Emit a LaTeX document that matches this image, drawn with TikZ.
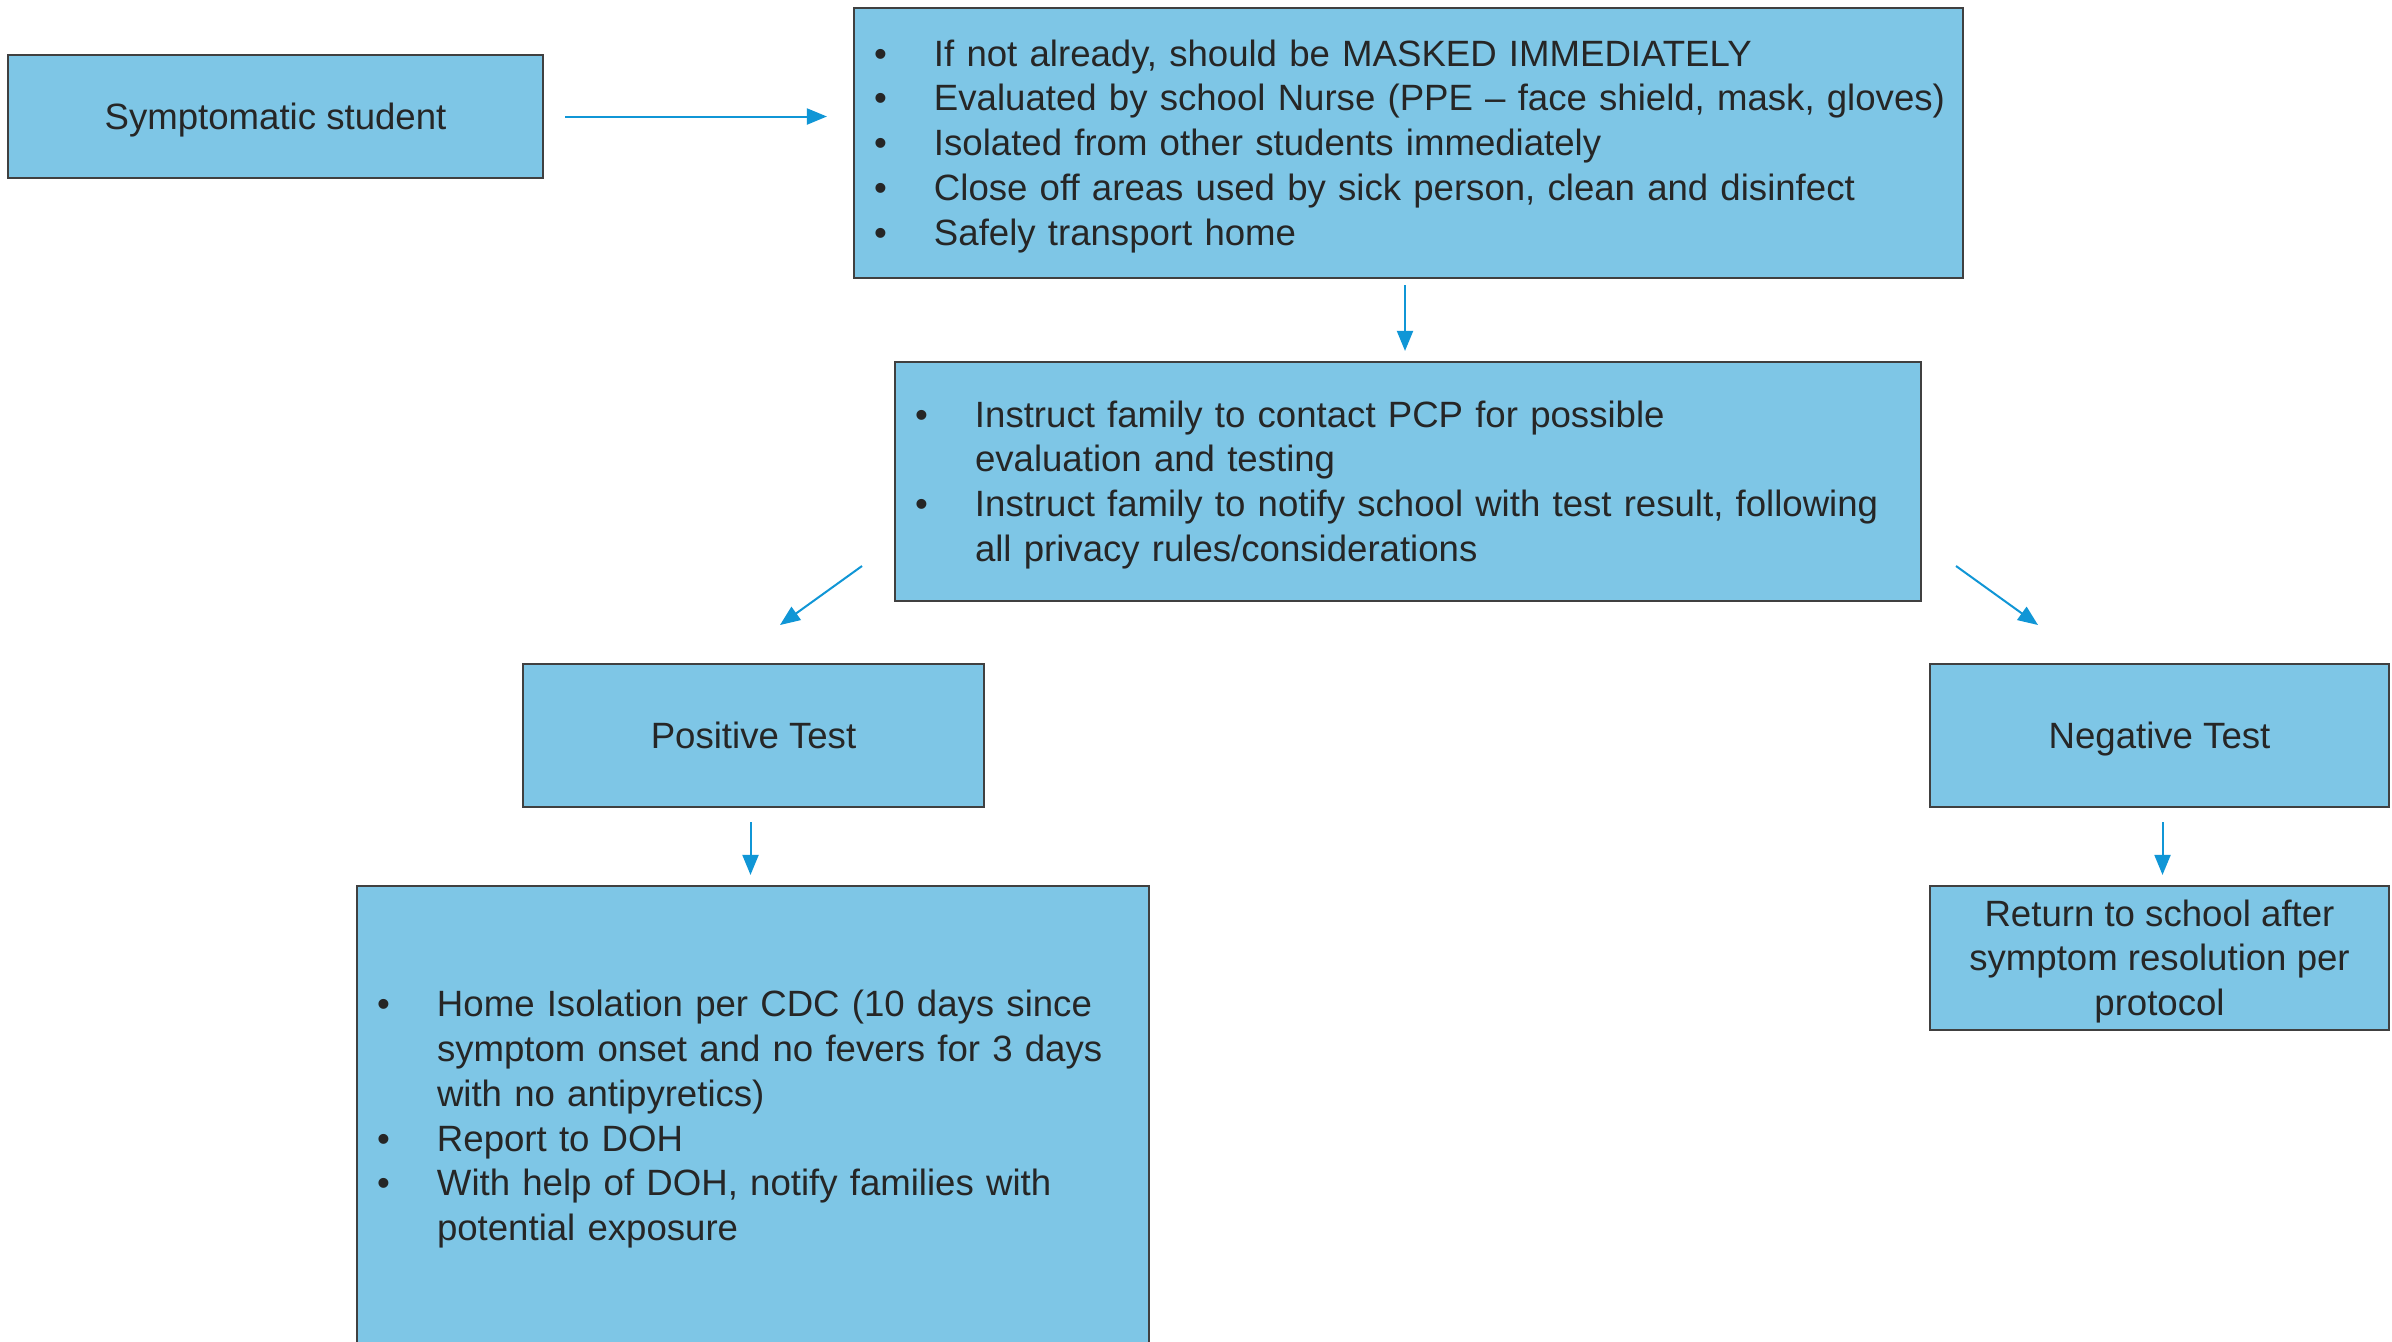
\documentclass[tikz,border=0pt]{standalone}
\usepackage{fontspec}
\setmainfont{Liberation Sans}
\usetikzlibrary{arrows.meta,calc}
\definecolor{boxfill}{RGB}{126,198,230}
\definecolor{boxline}{RGB}{64,64,64}
\definecolor{txt}{RGB}{38,38,38}
\definecolor{arr}{RGB}{16,150,214}
\newcommand\pstrut{\rule[-0.212em]{0pt}{1.117em}}
\newcommand\bl[1]{\makebox[27pt][l]{\hspace*{-3pt}\textbullet}\mbox{\pstrut#1}}
\newcommand\cl[1]{\hspace*{27pt}\mbox{\pstrut#1}}
\begin{document}
\begin{tikzpicture}[x=0.5pt,y=-0.5pt,
  box/.style={draw=boxline,fill=boxfill,line width=1.1pt,text=txt,inner sep=0pt,
     font=\fontsize{18.3}{22.35}\selectfont},
  listbox/.style={box,align=left,inner xsep=13pt},
  centerbox/.style={box,align=center},
  conn/.style={draw=arr,line width=1pt,-{Triangle[length=10pt,width=8pt]}}]
\useasboundingbox (0,0) rectangle (2392,1341);
\fill[white] (0,0) rectangle (2392,1341);

\node[centerbox,minimum width=267.5pt,minimum height=61.5pt] (boxA) at (275.5,116.5) {\pstrut Symptomatic student};

\node[listbox,text width=528.5pt,minimum width=554.5pt,minimum height=135pt] (boxB) at (1408.5,143) {%
\bl{If not already, should be MASKED IMMEDIATELY}\\
\bl{Evaluated by school Nurse (PPE -- face shield, mask, gloves)}\\
\bl{Isolated from other students immediately}\\
\bl{Close off areas used by sick person, clean and disinfect}\\
\bl{Safely transport home}};

\node[listbox,text width=487pt,minimum width=513pt,minimum height=119.5pt] (boxC) at (1408,481.5) {%
\bl{Instruct family to contact PCP for possible}\\
\cl{evaluation and testing}\\
\bl{Instruct family to notify school with test result, following}\\
\cl{all privacy rules/considerations}};

\node[centerbox,minimum width=230.5pt,minimum height=71.5pt] (boxPos) at (753.5,735.5) {\pstrut Positive Test};
\node[centerbox,minimum width=229.5pt,minimum height=71.5pt] (boxNeg) at (2159.5,735.5) {\pstrut Negative Test};

\node[listbox,text width=370pt,minimum width=396pt,minimum height=230pt] (boxHome) at (753,1116) {%
\bl{Home Isolation per CDC (10 days since}\\
\cl{symptom onset and no fevers for 3 days}\\
\cl{with no antipyretics)}\\
\bl{Report to DOH}\\
\bl{With help of DOH, notify families with}\\
\cl{potential exposure}};

\node[centerbox,minimum width=229.5pt,minimum height=72pt] (boxRet) at (2159.5,958) {%
\pstrut Return to school after\\\pstrut symptom resolution per\\\pstrut protocol};

\coordinate (cPosA) at (862,566);
\coordinate (cPosB) at (780,625);
\coordinate (cNegA) at (1956,566);
\coordinate (cNegB) at (2038,625);
\coordinate (bcTop) at ($(boxB.south)+(-3.5,0)$);
\coordinate (phTop) at ($(boxPos.south)+(-3,0)$);
\coordinate (nrTop) at ($(boxNeg.south)+(3,0)$);

\draw[conn,shorten <=10.5pt,shorten >=13pt] (boxA.east) -- (boxA.east -| boxB.west);
\draw[conn,shorten <=3pt,shorten >=5pt] (bcTop) -- (bcTop |- boxC.north);
\draw[conn] (cPosA) -- (cPosB);
\draw[conn] (cNegA) -- (cNegB);
\draw[conn,shorten <=7pt,shorten >=5pt] (phTop) -- (phTop |- boxHome.north);
\draw[conn,shorten <=7pt,shorten >=5pt] (nrTop) -- (nrTop |- boxRet.north);
\end{tikzpicture}
\end{document}
